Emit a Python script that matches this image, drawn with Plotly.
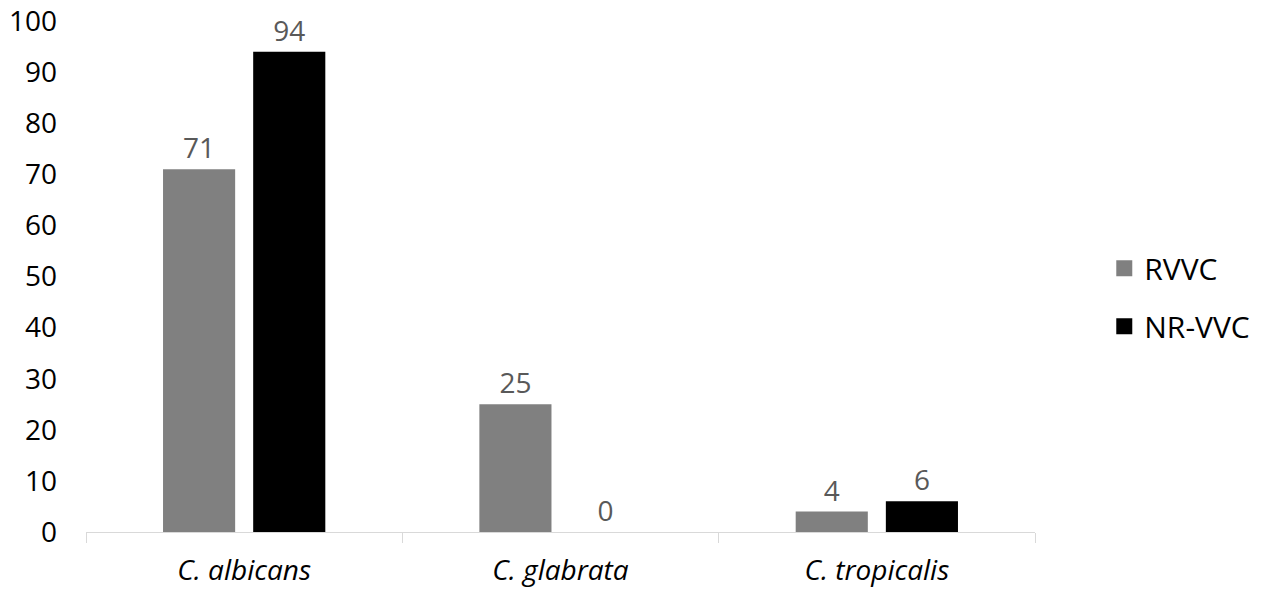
import plotly.graph_objects as go

categories = ["<i>C. albicans</i>", "<i>C. glabrata</i>", "<i>C. tropicalis</i>"]
rvvc = [71, 25, 4]
nrvvc = [94, 0, 6]
series_names = ["RVVC", "NR-VVC"]
series_colors = ["#808080", "#000000"]
y_ticks = [0, 10, 20, 30, 40, 50, 60, 70, 80, 90, 100]

FONT = "Open Sans"

fig = go.Figure()
for name, vals, col, grp in zip(series_names, [rvvc, nrvvc], series_colors, ["a", "b"]):
    fig.add_trace(go.Bar(
        x=categories, y=vals, name=name,
        marker=dict(color=col, line=dict(width=8, color="rgba(0,0,0,0)")),
        text=[str(v) for v in vals], textposition="outside",
        textfont=dict(family=FONT, size=28, color="#595959"),
        cliponaxis=False, showlegend=False,
    ))
    # legend proxy
    fig.add_trace(go.Scatter(
        x=[None], y=[None], mode="markers", name=name, legendgroup=grp,
        marker=dict(symbol="square", size=20, color=col),
    ))

fig.update_layout(
    width=1273, height=592,
    margin=dict(l=86, r=238, t=21, b=60),
    paper_bgcolor="white", plot_bgcolor="white",
    barmode="group", bargap=0.43, bargroupgap=0.2,
    font=dict(family=FONT, size=28, color="#000000"),
    legend=dict(x=1.073, xanchor="left", y=0.567, yanchor="top",
                font=dict(family=FONT, size=30, color="#000000"),
                tracegroupgap=16, bgcolor="rgba(0,0,0,0)"),
    xaxis=dict(showline=True, linecolor="#d9d9d9", linewidth=1.3,
               ticks="outside", tickson="boundaries", ticklen=10,
               tickcolor="#d9d9d9", tickwidth=1.3, showgrid=False,
               tickfont=dict(family=FONT, size=28, color="#000000"),
               ticklabelstandoff=13, automargin=False),
    yaxis=dict(range=[0, 100], tickvals=y_ticks, showgrid=False,
               showline=False, zeroline=False, ticks="",
               tickfont=dict(family=FONT, size=28, color="#000000"),
               ticklabelstandoff=28, automargin=False),
)

fig.write_html("out.html")
